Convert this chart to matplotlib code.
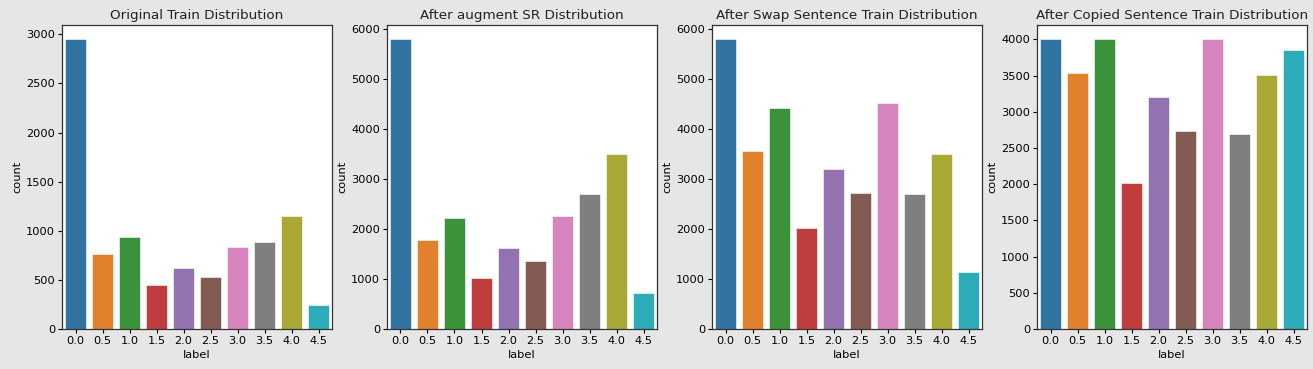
import matplotlib
matplotlib.use("Agg")
import matplotlib.pyplot as plt
import numpy as np

labels = ["0.0", "0.5", "1.0", "1.5", "2.0", "2.5", "3.0", "3.5", "4.0", "4.5"]

original_counts = [2947, 764, 934, 445, 618, 526, 832, 889, 1151, 241]
sr_counts = [5787, 1773, 2213, 1013, 1613, 1367, 2260, 2707, 3507, 720]
swap_counts = [5787, 3553, 4427, 2013, 3193, 2727, 4513, 2707, 3507, 1140]
copied_counts = [4000, 3543, 4000, 2012, 3202, 2736, 4000, 2690, 3511, 3852]

titles = [
    "Original Train Distribution",
    "After augment SR Distribution",
    "After Swap Sentence Train Distribution",
    "After Copied Sentence Train Distribution",
]

# seaborn-style desaturated tab10
colors = ["#3274a1", "#e1812c", "#3a923a", "#c03d3e", "#9372b2",
          "#845b53", "#d684bd", "#7f7f7f", "#a9aa35", "#2eabb8"]

plt.rcParams.update({
    "font.family": "DejaVu Sans",
    "figure.facecolor": "#e6e6e6",
    "axes.edgecolor": "#333333",
    "axes.linewidth": 0.9,
    "xtick.labelsize": 8.2,
    "ytick.labelsize": 8.2,
    "text.color": "#222222",
})

fig = plt.figure(figsize=(13.13, 3.69), dpi=100)

left0 = 62 / 1313
width = 270 / 1313
step = 325 / 1313
bottom = 40 / 369
height = 304 / 369

all_counts = [original_counts, sr_counts, swap_counts, copied_counts]
for i, (counts, title) in enumerate(zip(all_counts, titles)):
    ax = fig.add_axes([left0 + i * step, bottom, width, height])
    x = np.arange(len(labels))
    ax.bar(x, counts, width=0.8, color=colors, edgecolor="white", linewidth=0.4)
    ax.set_xlim(-0.5, len(labels) - 0.5)
    ax.set_ylim(0, max(counts) * 1.05)
    ax.set_xticks(x)
    ax.set_xticklabels(labels)
    ax.set_title(title, fontsize=9.7, pad=4)
    ax.set_xlabel("label", fontsize=8.2, labelpad=3)
    ax.set_ylabel("count", fontsize=8.2, labelpad=3)
    ax.tick_params(length=3, pad=2)

fig.savefig("out.png", dpi=100, facecolor=fig.get_facecolor())
